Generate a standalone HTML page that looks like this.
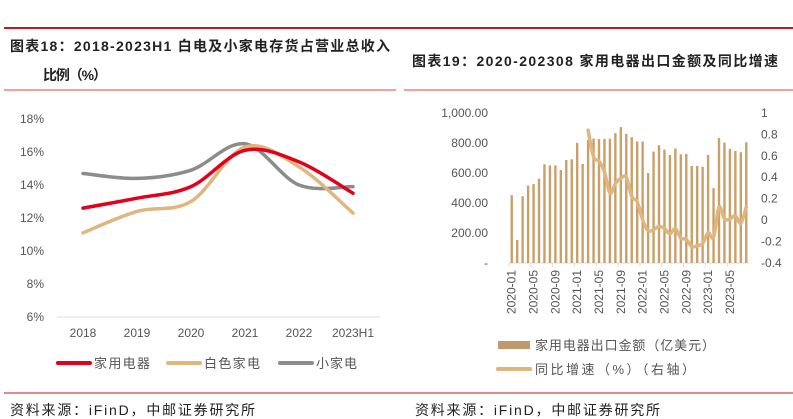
<!DOCTYPE html>
<html><head><meta charset="utf-8">
<style>
body{margin:0;background:#fff;width:793px;height:419px;overflow:hidden;font-family:"Liberation Sans","Noto Sans CJK SC",sans-serif;}
svg{position:absolute;left:0;top:0}
.t{font-family:"Liberation Sans","Noto Sans CJK SC",sans-serif;}
</style></head><body>
<svg id="s" width="793" height="419">
<line x1="4" y1="28" x2="793" y2="28" stroke="#c8151d" stroke-width="2"/>
<line x1="4" y1="90" x2="396" y2="90" stroke="#d44" stroke-width="1"/>
<line x1="404" y1="90" x2="793" y2="90" stroke="#d44" stroke-width="1"/>
<line x1="4" y1="393" x2="793" y2="393" stroke="#c8151d" stroke-width="1"/>
<text x="10" y="51" font-size="14" font-weight="bold" fill="#222" class="t" textLength="380" lengthAdjust="spacing">图表18：2018-2023H1 白电及小家电存货占营业总收入</text>
<text x="43" y="80" font-size="14" font-weight="bold" fill="#222" class="t" textLength="64" lengthAdjust="spacing">比例（%）</text>
<text x="412" y="66" font-size="14" font-weight="bold" fill="#222" class="t" textLength="366" lengthAdjust="spacing">图表19：2020-202308 家用电器出口金额及同比增速</text>
<text x="10" y="415" font-size="14" fill="#222" class="t" textLength="245" lengthAdjust="spacing">资料来源：iFinD，中邮证券研究所</text>
<text x="415" y="415" font-size="14" fill="#222" class="t" textLength="245" lengthAdjust="spacing">资料来源：iFinD，中邮证券研究所</text>
<g id="left"></g><g id="right"></g>
</svg>
<script>
const ns="http://www.w3.org/2000/svg";
function mk(p,tag,a){const e=document.createElementNS(ns,tag);for(const k in a)e.setAttribute(k,a[k]);p.appendChild(e);return e;}
// ---- left chart data
const years=["2018","2019","2020","2021","2022","2023H1"];
const homeAppl=[12.6,13.2,13.9,16.1,15.4,13.5];
const whiteGoods=[11.1,12.4,13.0,16.3,15.1,12.3];
const smallAppl=[14.7,14.4,14.9,16.5,14.0,13.9];
const leftTicks=[6,8,10,12,14,16,18];
// ---- right chart data
const months=[];for(let y=2020;y<=2023;y++)for(let m=1;m<=12;m++){if(y==2023&&m>8)break;months.push(y+"-"+String(m).padStart(2,"0"));}
const exportVal=[452,154,445,517,526,562,658,651,651,620,687,691,801,660,820,830,826,828,828,866,906,861,839,810,810,600,743,785,756,720,763,725,727,647,647,642,720,499,834,803,761,747,738,805];
const growth=[null,null,null,null,null,null,null,null,null,null,null,null,null,null,0.84,0.59,0.55,0.45,0.25,0.34,0.39,0.40,0.22,0.17,0.0,-0.10,-0.09,-0.06,-0.08,-0.13,-0.08,-0.17,-0.18,-0.25,-0.24,-0.22,-0.12,-0.16,0.12,0.01,0.01,0.04,-0.03,0.12];
const leftAxisLabels=["-","200.00","400.00","600.00","800.00","1,000.00"];
const leftAxisVals=[0,200,400,600,800,1000];
const rightAxisLabels=["-0.4","-0.2","0","0.2","0.4","0.6","0.8","1"];
const rightAxisVals=[-0.4,-0.2,0,0.2,0.4,0.6,0.8,1];

function smooth(pts){let d="M"+pts[0][0]+","+pts[0][1];for(let i=0;i<pts.length-1;i++){const p0=pts[i-1]||pts[i],p1=pts[i],p2=pts[i+1],p3=pts[i+2]||p2;const t=6;d+=` C${p1[0]+(p2[0]-p0[0])/t},${p1[1]+(p2[1]-p0[1])/t} ${p2[0]-(p3[0]-p1[0])/t},${p2[1]-(p3[1]-p1[1])/t} ${p2[0]},${p2[1]}`;}return d;}

// left
const L=document.getElementById("left");
const lx=i=>83+i*(353-83)/(years.length-1);
const ly=v=>317-(v-6)*16.5;
mk(L,"line",{x1:57,y1:317,x2:380,y2:317,stroke:"#ddd","stroke-width":1,});
leftTicks.forEach(v=>{const e=mk(L,"text",{x:44,y:ly(v)+4,"font-size":12,fill:"#555","text-anchor":"end",class:"t"});e.textContent=v+"%";

});
years.forEach((y,i)=>{const e=mk(L,"text",{x:lx(i),y:337,"font-size":12,fill:"#555","text-anchor":"middle",class:"t"});e.textContent=y;

});
[[smallAppl,"#8c8c8c","series-small-appliance"],[whiteGoods,"#dfb67e","series-white-goods"],[homeAppl,"#e3001b","series-home-appliance"]].forEach(([arr,c,n])=>{
const p=mk(L,"path",{d:smooth(arr.map((v,i)=>[lx(i),ly(v)])),fill:"none",stroke:c,"stroke-width":3.5,"stroke-linecap":"round"});

});
[["家用电器","#e3001b",58,56],["白色家电","#dfb67e",168,56],["小家电","#8c8c8c",280,41]].forEach(([t,c,x,w])=>{
const g=mk(L,"g",{});


mk(g,"line",{x1:x,y1:363,x2:x+32,y2:363,stroke:c,"stroke-width":4,"stroke-linecap":"round"});
const e=mk(g,"text",{x:x+36,y:368,"font-size":13,fill:"#555",class:"t",textLength:w,lengthAdjust:"spacing"});e.textContent=t;});

// right
const R=document.getElementById("right");
const n=months.length,x0=509,x1=749,step=(x1-x0)/n;
const bx=i=>x0+step*(i+0.5);
const by=v=>263-v*0.15;
const gy=v=>220-v*107;
mk(R,"line",{x1:x0,y1:263,x2:x1,y2:263,stroke:"#ddd","stroke-width":1,});
leftAxisVals.forEach((v,i)=>{const e=mk(R,"text",{x:488,y:by(v)+4,"font-size":12,fill:"#555","text-anchor":"end",class:"t"});e.textContent=leftAxisLabels[i];

});
rightAxisVals.forEach((v,i)=>{const e=mk(R,"text",{x:761,y:gy(v)+4,"font-size":12,fill:"#555",class:"t"});e.textContent=rightAxisLabels[i];

});
exportVal.forEach((v,i)=>{const r=mk(R,"rect",{x:bx(i)-1.2,y:by(v),width:2.4,height:263-by(v),fill:"#c9a06a"});

});
months.forEach((m,i)=>{if(i%4)return;const xx=x0+step*i;
mk(R,"line",{x1:xx,y1:263,x2:xx,y2:267,stroke:"#ddd"});
const e=mk(R,"text",{x:0,y:0,"font-size":12,fill:"#555","text-anchor":"end",class:"t",transform:`translate(${bx(i)+4},270) rotate(-90)`});e.textContent=m;

});
const gp=[];growth.forEach((v,i)=>{if(v!==null)gp.push([bx(i),gy(v)]);});
const gl=mk(R,"path",{d:smooth(gp),fill:"none",stroke:"#dfb67e","stroke-width":3.5,"stroke-linejoin":"round","stroke-linecap":"round"});


[["家用电器出口金额（亿美元）",498,345,"rect",180],["同比增速（%）（右轴）",498,369,"line",160]].forEach(([t,x,y,k,w])=>{
const g=mk(R,"g",{});


if(k=="rect")mk(g,"rect",{x:x,y:y-4,width:32,height:8,fill:"#c09a6b"});else mk(g,"line",{x1:x,y1:y,x2:x+32,y2:y,stroke:"#dfb67e","stroke-width":4,"stroke-linecap":"round"});
const e=mk(g,"text",{x:x+37,y:y+5,"font-size":13,fill:"#555",class:"t",textLength:w,lengthAdjust:"spacing"});e.textContent=t;});
</script>
</body></html>
